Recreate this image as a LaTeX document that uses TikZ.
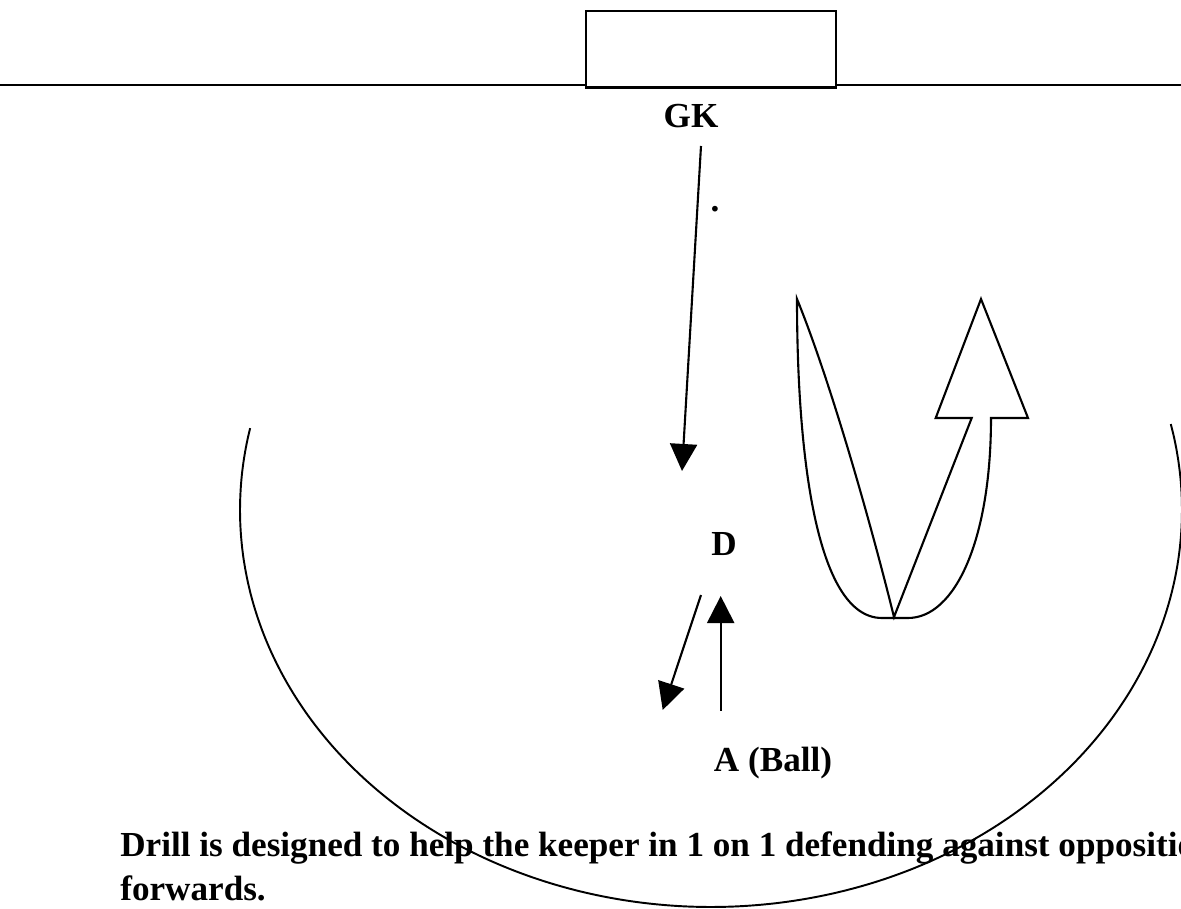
\documentclass[tikz,border=0pt]{standalone}
\usepackage{fontspec}
\setmainfont{Liberation Serif}
\usetikzlibrary{arrows.meta}
\usetikzlibrary{calc}

\begin{document}
\begin{tikzpicture}[
		x=0.02cm, y=-0.02cm,
		tag/.style={
			font=\bfseries\fontsize{20}{25}\selectfont,
			inner sep=0pt,
			anchor=base,
		},
		run/.style={
			line width=1.2pt,
			-{Triangle[length=15.4pt,width=15.4pt]},
		},
		pitch/.style={line width=1.1pt},
		goalbox/.style={
			draw=black,
			line width=1.3pt,
			minimum width=5cm,
			minimum height=1.53cm,
			inner sep=0pt,
		},
		uturn/.style={line width=1.2pt, line join=miter},
		]
		\useasboundingbox (0,0) rectangle (1181,909);
		\clip (0,0) rectangle (1181,909);
		%% goal line with the goal box
		\node[goalbox] (goal) at (710.7,49.4) {};
		\coordinate (line left) at (0,85);
		\coordinate (line right) at (1181,85);
		\draw[pitch] (line left) -- (goal.west |- line left);
		\draw[pitch] (goal.east |- line right) -- (line right);
		%% the D
		\draw[pitch] plot[domain=-12.5:191.9, samples=120, smooth] ({711+471*cos(\x)}, {510+397*sin(\x)});
		%% players
		\node[tag] (gk) at (691,127.3) {GK};
		\node[tag] (dot) at (715,212) {.};
		\node[tag] (d) at (724,555.7) {D};
		\node[tag] (ball) at (773,771.7) {A (Ball)};
		%% runs
		\coordinate (keeper start) at (701,146);
		\coordinate (keeper end) at (682,471);
		\draw[run] (keeper start) -- (keeper end);
		\coordinate (drop start) at (701,595);
		\coordinate (drop end) at (662.7,710);
		\draw[run] (drop start) -- (drop end);
		\coordinate (attack start) at (720.7,710.7);
		\coordinate (attack end) at (720.7,596);
		\draw[run] (attack start) -- (attack end);
		%% u-turn block arrow
		\draw[uturn] (894,617) -- (971.7,418) -- (935.7,418) -- (981,299) -- (1028,418) -- (991,418)
			.. controls (991,540) and (955,618) .. (908,618) -- (882,618)
			.. controls (815,618) and (797,450) .. (797,299)
			.. controls (830,380) and (870,520) .. cycle;
		%% caption
		\node[tag, anchor=base west] (drill) at (120,856) {Drill is designed to help the keeper in 1 on 1 defending against opposition};
		\node[tag, anchor=base west] (fwd) at (120,900) {forwards.};
	\end{tikzpicture}
\end{document}
